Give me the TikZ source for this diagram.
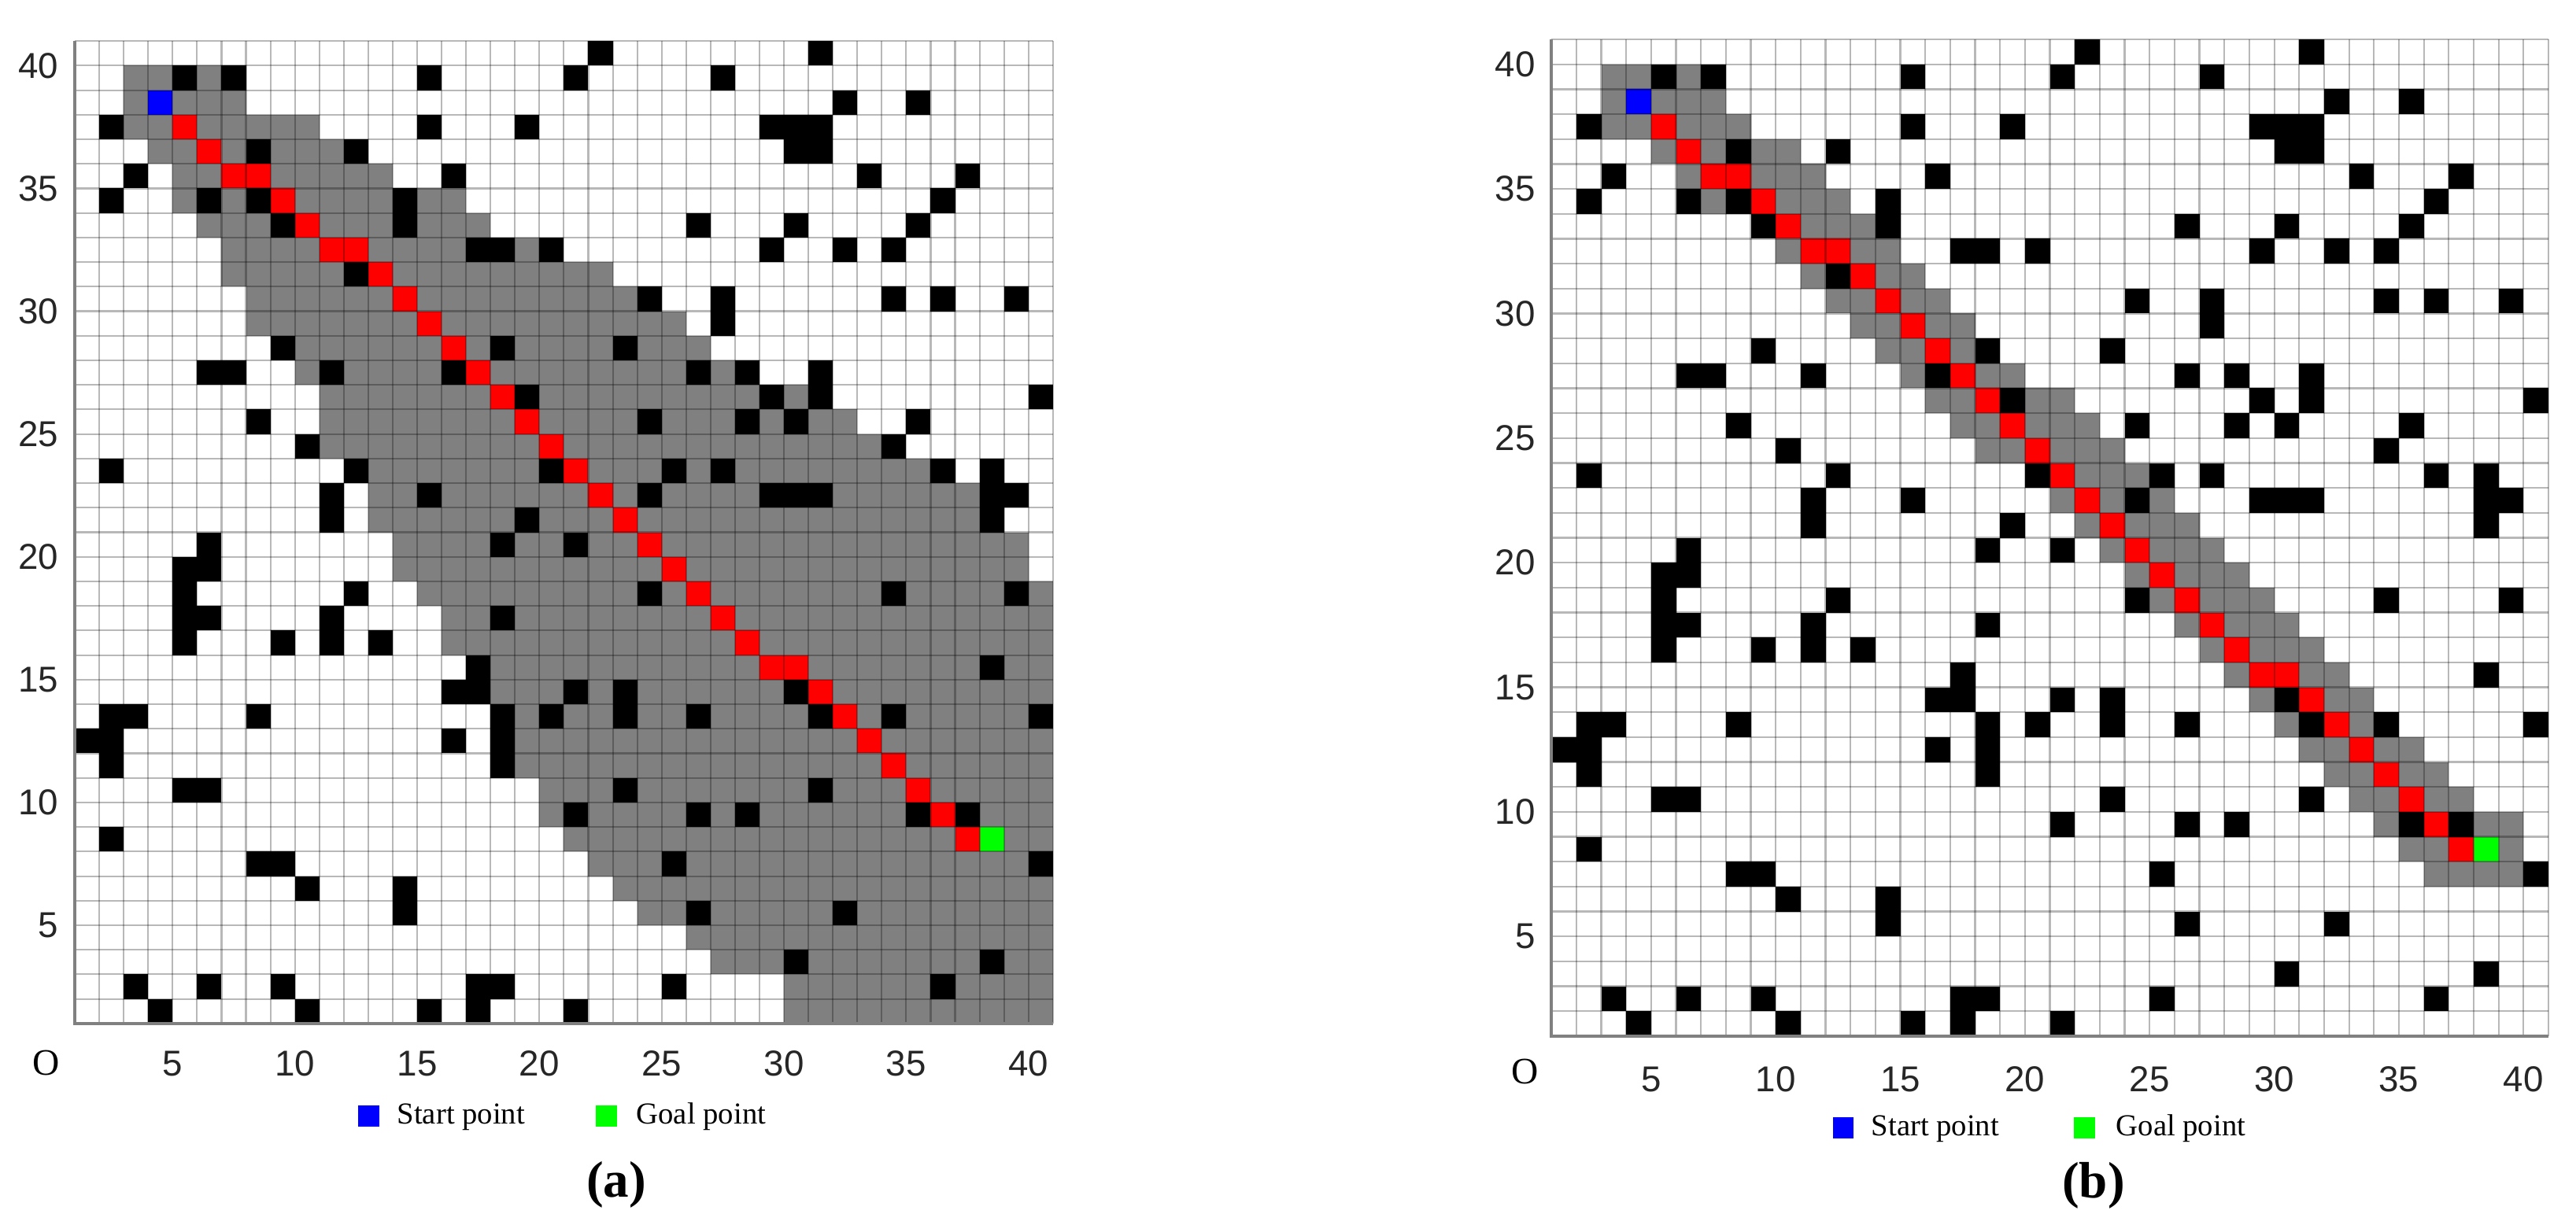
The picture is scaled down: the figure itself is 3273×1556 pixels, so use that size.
\documentclass[tikz,border=0pt]{standalone}
\usepackage{fontspec}
\setmainfont{Liberation Serif}
\newfontfamily\axisfont{Liberation Sans}
\definecolor{cellgrey}{HTML}{808080}
\definecolor{pathred}{HTML}{FF0000}
\definecolor{startblue}{HTML}{0000FF}
\definecolor{goalgreen}{HTML}{00FF00}
\definecolor{ticktext}{HTML}{262626}

\def\obstlist{40/{22,31}, 39/{5,7,15,21,27}, 38/{32,35}, 37/{2,15,19,29,30,31}, 36/{8,12,30,31}, 35/{3,16,33,37}, 34/{2,6,8,14,36}, 33/{9,14,26,30,35}, 32/{17,18,20,29,32,34}, 31/{12}, 30/{24,27,34,36,39}, 29/{27}, 28/{9,18,23}, 27/{6,7,11,16,26,28,31}, 26/{19,29,31,40}, 25/{8,24,28,30,35}, 24/{10,34}, 23/{2,12,20,25,27,36,38}, 22/{11,15,24,29,30,31,38,39}, 21/{11,19,38}, 20/{6,18,21}, 19/{5,6}, 18/{5,12,24,34,39}, 17/{5,6,11,18}, 16/{5,9,11,13}, 15/{17,38}, 14/{16,17,21,23,30}, 13/{2,3,8,18,20,23,26,31,34,40}, 12/{1,2,16,18}, 11/{2,18}, 10/{5,6,23,31}, 9/{21,26,28,35,37}, 8/{2}, 7/{8,9,25,40}, 6/{10,14}, 5/{14,26,32}, 3/{30,38}, 2/{3,6,9,17,18,25,36}, 1/{4,10,15,17,21}}

\def\greya{39/3/6, 38/3/7, 37/3/10, 36/4/11, 35/5/13, 34/5/16, 33/6/17, 32/7/19, 31/7/22, 30/8/23, 29/8/25, 28/10/26, 27/10/27, 26/11/30, 25/11/32, 24/11/33, 23/13/35, 22/13/37, 21/13/37, 20/14/39, 19/14/39, 18/15/40, 17/16/40, 16/16/40, 15/18/40, 14/18/40, 13/19/40, 12/19/40, 11/19/40, 10/20/40, 9/20/40, 8/21/40, 7/22/40, 6/23/40, 5/24/40, 4/26/40, 3/27/40, 2/30/40, 1/30/40}

\def\greyb{39/3/6, 38/3/7, 37/3/8, 36/5/10, 35/6/11, 34/7/12, 33/10/13, 32/10/14, 31/11/15, 30/12/16, 29/13/17, 28/14/17, 27/15/19, 26/16/21, 25/17/22, 24/18/23, 23/21/24, 22/21/25, 21/22/26, 20/23/27, 19/24/28, 18/25/29, 17/26/30, 16/27/31, 15/28/32, 14/29/33, 13/30/33, 12/31/35, 11/32/36, 10/33/37, 9/34/39, 8/35/39, 7/36/39}

\def\pathcells{5/37, 6/36, 7/35, 8/35, 9/34, 10/33, 11/32, 12/32, 13/31, 14/30, 15/29, 16/28, 17/27, 18/26, 19/25, 20/24, 21/23, 22/22, 23/21, 24/20, 25/19, 26/18, 27/17, 28/16, 29/15, 30/15, 31/14, 32/13, 33/12, 34/11, 35/10, 36/9, 37/8}

\newcommand\plangrid[2]{%
  \foreach \r/\a/\b in #1 {\fill[cellgrey] (\a,\r) rectangle (\b+1,\r+1);}
  \foreach \r/\l in \obstlist {\foreach \c in \l {\fill[black] (\c,\r) rectangle ++(1,1);}}
  \foreach \c/\r in \pathcells {\fill[pathred] (\c,\r) rectangle ++(1,1);}
  \fill[startblue] (4,38) rectangle ++(1,1);
  \fill[goalgreen] (38,8) rectangle ++(1,1);
  \foreach \k in {1,...,41} {\draw[gridln] (\k,1) -- (\k,41); \draw[gridln] (1,\k) -- (41,\k);}
  \draw[axisln] (1,41) -- (1,1) -- (41,1);
  \foreach \k in {5,10,...,40} {
    \node[ticklab, anchor=east] (y#2\k) at ([xshift=-0.2cm]1,\k) {\k};
  }
}

\begin{document}
\begin{tikzpicture}[x=0.01cm,y=0.01cm,
  gridln/.style={black, opacity=0.28, line width=0.6pt},
  axisln/.style={black!50, line width=1.1pt},
  ticklab/.style={inner sep=0pt, text=ticktext, font=\axisfont\fontsize{13}{15}\selectfont},
  legtext/.style={inner sep=0pt, anchor=base west, font=\fontsize{11}{13}\selectfont},
  origlab/.style={inner sep=0pt, font=\fontsize{13.5}{15}\selectfont},
  caplab/.style={inner sep=0pt, font=\fontsize{18.5}{22}\selectfont\bfseries}]
\useasboundingbox (0,0) rectangle (3273,1556);
\fill[white] (0,0) rectangle (3273,1556);

% ---------- (a) ----------
\begin{scope}[shift={(0.6395cm,2.238cm)},x=0.3105cm,y=0.312cm]
  \plangrid{\greya}{a}
  \foreach \k in {5,10,...,40} {
    \node[ticklab] (xa\k) at ([yshift=-0.51cm]\k,1) {\k};
  }
\end{scope}
\node[origlab] (oa) at (59,205) {O};
\fill[startblue] (455,124) rectangle (482,151);
\node[legtext] (sta) at (504,128) {Start point};
\fill[goalgreen] (757,124) rectangle (784,151);
\node[legtext] (gla) at (808,128) {Goal point};
\node[caplab] (capa) at (783,50) {(a)};

% ---------- (b) ----------
\begin{scope}[shift={(19.3835cm,2.0735cm)},x=0.3165cm,y=0.3165cm]
  \plangrid{\greyb}{b}
  \foreach \k in {5,10,...,40} {
    \node[ticklab] (xb\k) at ([yshift=-0.55cm]\k,1) {\k};
  }
\end{scope}
\node[origlab] (ob) at (1938,194) {O};
\fill[startblue] (2329,109) rectangle (2355,136);
\node[legtext] (stb) at (2377,113) {Start point};
\fill[goalgreen] (2635,109) rectangle (2662,136);
\node[legtext] (glb) at (2688,113) {Goal point};
\node[caplab] (capb) at (2660,49) {(b)};
\end{tikzpicture}
\end{document}
